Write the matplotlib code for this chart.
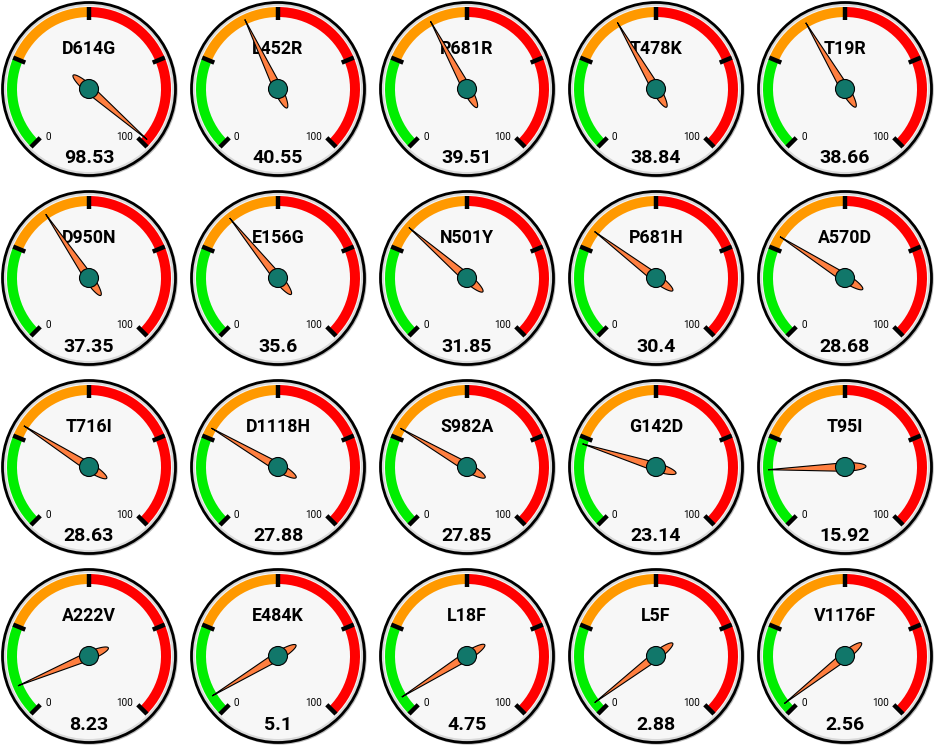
import numpy as np
import matplotlib
matplotlib.use("Agg")
import matplotlib.pyplot as plt
from matplotlib.patches import Circle, Wedge, Polygon

mutations = ["D614G", "L452R", "P681R", "T478K", "T19R",
             "D950N", "E156G", "N501Y", "P681H", "A570D",
             "T716I", "D1118H", "S982A", "G142D", "T95I",
             "A222V", "E484K", "L18F", "L5F", "V1176F"]
values = [98.53, 40.55, 39.51, 38.84, 38.66,
          37.35, 35.6, 31.85, 30.4, 28.68,
          28.63, 27.88, 27.85, 23.14, 15.92,
          8.23, 5.1, 4.75, 2.88, 2.56]
band_edges = [0, 25, 50, 100]
band_colors = ["#00ee00", "#ff9900", "#ff0000"]
tick_values = [0, 25, 50, 75, 100]
vmin, vmax = 0, 100

W, H = 934, 745
DPI = 100
fig = plt.figure(figsize=(W / DPI, H / DPI), dpi=DPI)
fig.patch.set_facecolor("white")

plt.rcParams['font.family'] = ['Roboto', 'DejaVu Sans']

def ang(v):
    return 225 - (v - vmin) / (vmax - vmin) * 270

ncols, nrows = 5, 4
spacing = 189
half = 94.5
R = 87.5

for k, (name, val) in enumerate(zip(mutations, values)):
    i, j = k % ncols, k // ncols
    cx = 89 + spacing * i
    cy = H - (89 + spacing * j)
    ax = fig.add_axes([(cx - half) / W, (cy - half) / H, 2 * half / W, 2 * half / H])
    ax.set_xlim(-half, half)
    ax.set_ylim(-half, half)
    ax.set_aspect("equal")
    ax.axis("off")

    # shadow and rim
    ax.add_patch(Circle((1.2, -1.2), R, facecolor="#bbbbbb", edgecolor="none", zorder=0))
    ax.add_patch(Circle((0, 0), R - 1, facecolor="#d9d9d9", edgecolor="black", lw=2.0, zorder=1))
    ax.add_patch(Circle((0, 0), R - 4.5, facecolor="#f7f7f7", edgecolor="none", zorder=2))

    # colored bands
    for b in range(len(band_colors)):
        a1, a2 = ang(band_edges[b + 1]), ang(band_edges[b])
        ax.add_patch(Wedge((0, 0), 82, a1, a2, width=10, facecolor=band_colors[b],
                           edgecolor="none", zorder=3))

    # ticks
    for tv in tick_values:
        t = np.radians(ang(tv))
        r1, r2 = 69, 82
        ax.plot([r1 * np.cos(t), r2 * np.cos(t)], [r1 * np.sin(t), r2 * np.sin(t)],
                color="black", lw=3.2, solid_capstyle="butt", zorder=4)

    # min/max labels
    ax.text(-44, -47.5, str(vmin), fontsize=7.2, ha="left", va="center", zorder=4)
    ax.text(44.5, -47.5, str(vmax), fontsize=7.2, ha="right", va="center", zorder=4)

    # title and value
    ax.text(0, 40, name, fontsize=12.8, fontweight="bold", ha="center", va="center", zorder=5)
    ax.text(0, -69, f"{val:g}", fontsize=14, fontweight="bold", ha="center", va="center", zorder=5)

    # needle
    L, Ltail, hw = 77, 21, 4.3
    xs_front = np.linspace(0, L, 30)
    w_front = hw * (1 - xs_front / L)
    th = np.linspace(0, np.pi, 30)
    xs_tail = -Ltail * np.sin(th)
    w_tail = hw * np.cos(th)
    upper = np.column_stack([xs_front[::-1], w_front[::-1]])
    tail = np.column_stack([xs_tail, w_tail])
    lower = np.column_stack([xs_front, -w_front])
    pts = np.vstack([upper, tail, lower])
    t = np.radians(ang(val))
    rot = np.array([[np.cos(t), -np.sin(t)], [np.sin(t), np.cos(t)]])
    pts = pts @ rot.T
    ax.add_patch(Polygon(pts, closed=True, facecolor="#ff7f40", edgecolor="black",
                         lw=0.8, zorder=6))
    ax.add_patch(Circle((0, 0), 9.5, facecolor="#11776a", edgecolor="black", lw=0.8, zorder=7))

fig.savefig("out.png", dpi=DPI, facecolor="white")
